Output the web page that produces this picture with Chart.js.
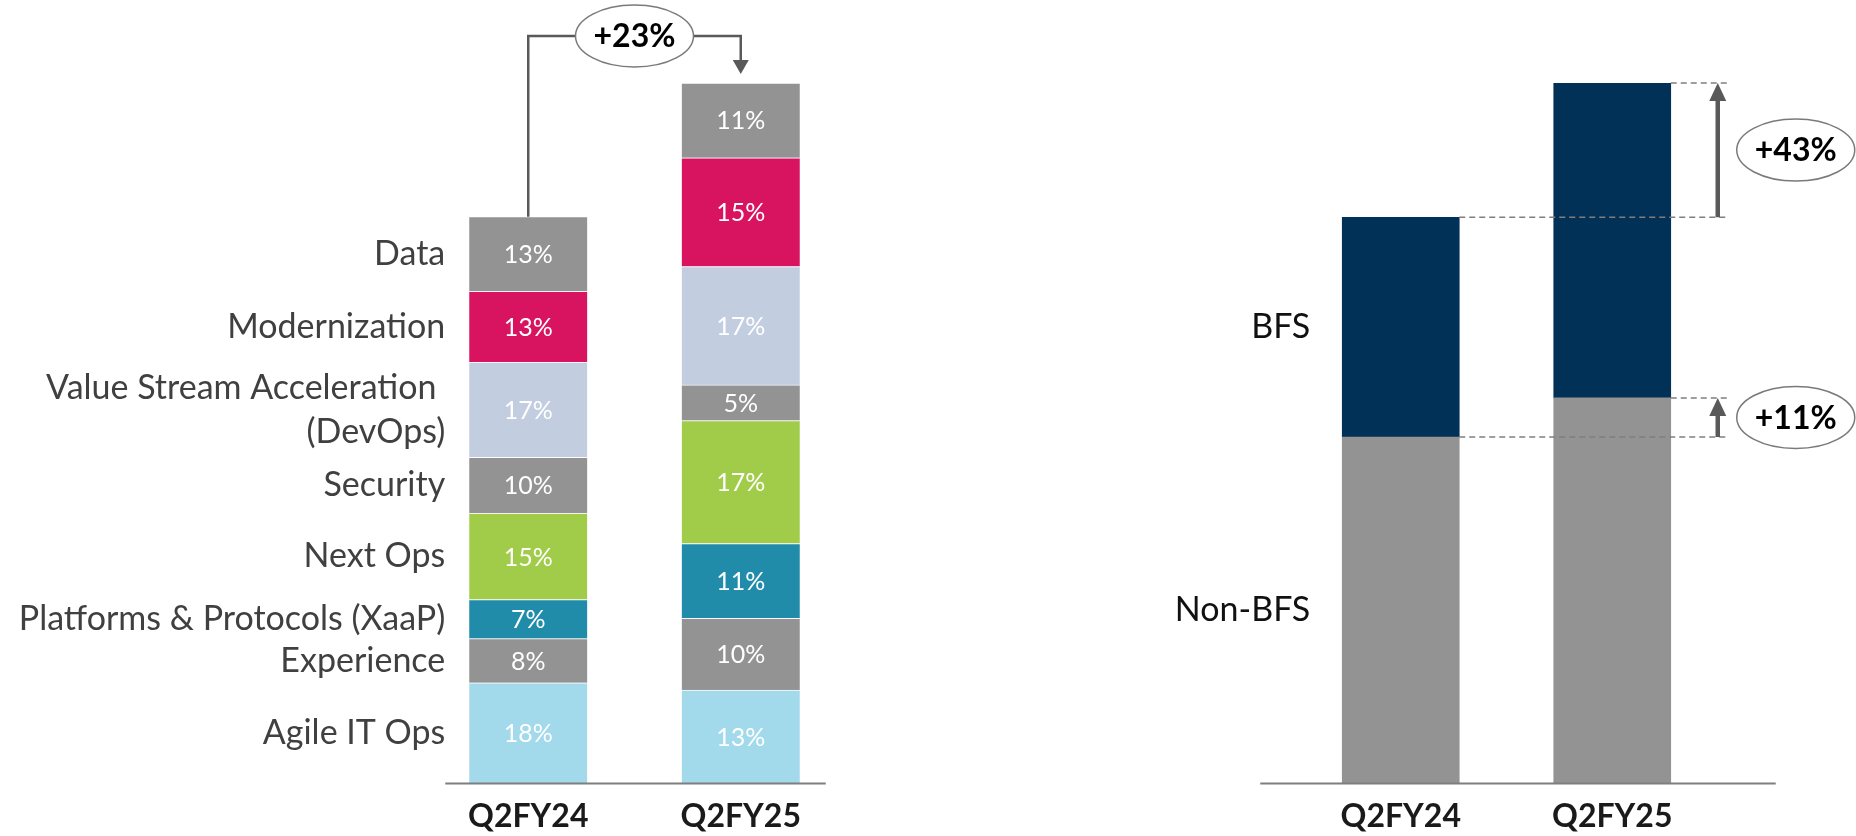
<!DOCTYPE html>
<html>
<head>
<meta charset="utf-8">
<script src="https://cdn.jsdelivr.net/npm/chart.js@4.4.1/dist/chart.umd.min.js"></script>
<style>
  html, body { margin: 0; padding: 0; background: #fff; overflow: hidden; }
  #wrap { position: relative; width: 1856px; height: 836px; overflow: hidden; }
  .box { position: absolute; top: 0; width: 928px; height: 850px; }
</style>
</head>
<body>
<div id="wrap">
  <div class="box" style="left:0"><canvas id="mix"></canvas></div>
  <div class="box" style="left:928px"><canvas id="bfs"></canvas></div>
</div>
<script>
const periods = ['Q2FY24', 'Q2FY25'];

// left chart: service lines, listed bottom to top
const services = ['Agile IT Ops', 'Experience', 'Platforms & Protocols (XaaP)', 'Next Ops', 'Security',
  ['Value Stream Acceleration ', '(DevOps)'], 'Modernization', 'Data'];
const mixQ2FY24 = [17.8, 7.8, 6.9, 15.2, 9.9, 16.8, 12.5, 13.2];
const mixQ2FY25 = [16.5, 12.7, 13.2, 21.7, 6.3, 20.9, 19.2, 13.2];
const shareQ2FY24 = [18, 8, 7, 15, 10, 17, 13, 13];
const shareQ2FY25 = [13, 10, 11, 17, 5, 17, 15, 11];
const mixColors = ['#a2daeb', '#939393', '#218caa', '#a0cc49', '#939393', '#c3cde0', '#d81460', '#939393'];
const totalGrowth = '+23%';

// right chart: BFS split
const bfsSegments = ['Non-BFS', 'BFS'];
const nonBfs = [61.2, 68.1];
const bfs = [38.8, 55.6];
const bfsGrowth = ['+11%', '+43%'];
const bfsColors = ['#939393', '#023157'];

const FONT = 'Lato, "Open Sans", sans-serif';
const sum = a => a.reduce((s, v) => s + v, 0);
const yMax = Math.max(sum(mixQ2FY24), sum(mixQ2FY25), nonBfs[0] + bfs[0], nonBfs[1] + bfs[1]);

function drawBadge(ctx, cx, cy, text) {
  ctx.save();
  ctx.beginPath();
  ctx.ellipse(cx, cy, 59, 31, 0, 0, Math.PI * 2);
  ctx.fillStyle = '#fff';
  ctx.fill();
  ctx.lineWidth = 1.5;
  ctx.strokeStyle = '#7a7a7a';
  ctx.stroke();
  ctx.fillStyle = '#000';
  ctx.font = 'bold 32px ' + FONT;
  ctx.textAlign = 'center';
  ctx.textBaseline = 'middle';
  ctx.fillText(text, cx, cy + 1);
  ctx.restore();
}

// % inside each segment
const insideLabels = {
  id: 'insideLabels',
  afterDatasetsDraw(chart) {
    const { ctx } = chart;
    ctx.save();
    ctx.font = '25px ' + FONT;
    ctx.fillStyle = '#fff';
    ctx.textAlign = 'center';
    ctx.textBaseline = 'middle';
    chart.data.datasets.forEach((ds, i) => {
      if (!ds.shares) return;
      chart.getDatasetMeta(i).data.forEach((bar, j) => {
        ctx.fillText(ds.shares[j] + '%', bar.x, (bar.y + bar.base) / 2 + 1);
      });
    });
    ctx.restore();
  }
};

// segment names left of the first bar
const rowLabels = {
  id: 'rowLabels',
  afterDatasetsDraw(chart, args, opts) {
    const { ctx } = chart;
    ctx.save();
    ctx.font = opts.size + 'px ' + FONT;
    ctx.fillStyle = opts.color;
    ctx.textAlign = 'right';
    ctx.textBaseline = 'middle';
    chart.data.datasets.forEach((ds, i) => {
      const bar = chart.getDatasetMeta(i).data[0];
      const x = bar.x - bar.width / 2 - opts.gap;
      const mid = (bar.y + bar.base) / 2;
      const lines = [].concat(ds.rowName);
      lines.forEach((t, k) => ctx.fillText(t, x, mid + (k - (lines.length - 1) / 2) * 44));
    });
    ctx.restore();
  }
};

const baseline = {
  id: 'baseline',
  afterDatasetsDraw(chart, args, opts) {
    const { ctx } = chart;
    const bars = chart.getDatasetMeta(0).data;
    const first = bars[0], last = bars[bars.length - 1];
    const y = chart.scales.y.getPixelForValue(0);
    ctx.save();
    ctx.strokeStyle = '#7f7f7f';
    ctx.lineWidth = 2;
    ctx.beginPath();
    ctx.moveTo(first.x - first.width / 2 - opts.left, y);
    ctx.lineTo(last.x + last.width / 2 + opts.right, y);
    ctx.stroke();
    ctx.restore();
  }
};

const growthBracket = {
  id: 'growthBracket',
  afterDraw(chart, args, opts) {
    const { ctx } = chart;
    const [a, b] = chart.getDatasetMeta(chart.data.datasets.length - 1).data;
    const yTop = opts.y;
    ctx.save();
    ctx.strokeStyle = '#595959';
    ctx.fillStyle = '#595959';
    ctx.lineWidth = 2.5;
    ctx.beginPath();
    ctx.moveTo(a.x, a.y);
    ctx.lineTo(a.x, yTop);
    ctx.lineTo(b.x, yTop);
    ctx.lineTo(b.x, b.y - 22);
    ctx.stroke();
    ctx.beginPath();
    ctx.moveTo(b.x - 8, b.y - 23);
    ctx.lineTo(b.x + 8, b.y - 23);
    ctx.lineTo(b.x, b.y - 9);
    ctx.closePath();
    ctx.fill();
    ctx.restore();
    drawBadge(ctx, (a.x + b.x) / 2, yTop, opts.text);
  }
};

const deltaArrows = {
  id: 'deltaArrows',
  afterDraw(chart, args, opts) {
    const { ctx } = chart;
    const low = chart.getDatasetMeta(0).data;
    const high = chart.getDatasetMeta(1).data;
    const x24 = low[0].x + low[0].width / 2;
    const x25 = low[1].x + low[1].width / 2;
    const ax = x25 + 47;
    const xEnd = ax + 9;
    [[low[0].y, low[1].y, opts.labels[0]], [high[0].y, high[1].y, opts.labels[1]]].forEach(([y0, y1, txt]) => {
      ctx.save();
      ctx.strokeStyle = '#7f7f7f';
      ctx.lineWidth = 1.5;
      ctx.setLineDash([6, 4]);
      ctx.beginPath();
      ctx.moveTo(x24, y0); ctx.lineTo(xEnd, y0);
      ctx.moveTo(x25, y1); ctx.lineTo(xEnd, y1);
      ctx.stroke();
      ctx.setLineDash([]);
      ctx.strokeStyle = '#595959';
      ctx.fillStyle = '#595959';
      ctx.lineWidth = 4.5;
      ctx.beginPath();
      ctx.moveTo(ax, y0);
      ctx.lineTo(ax, y1 + 16);
      ctx.stroke();
      ctx.beginPath();
      ctx.moveTo(ax - 8.5, y1 + 18);
      ctx.lineTo(ax + 8.5, y1 + 18);
      ctx.lineTo(ax, y1);
      ctx.closePath();
      ctx.fill();
      ctx.restore();
      drawBadge(ctx, ax + 78, (y0 + y1) / 2, txt);
    });
  }
};

function chartOptions(padLeft, padRight, plugins) {
  return {
    responsive: true,
    maintainAspectRatio: false,
    animation: false,
    layout: { padding: { left: padLeft, right: padRight, top: 83, bottom: 0 } },
    plugins: Object.assign({ legend: { display: false }, tooltip: { enabled: false } }, plugins),
    scales: {
      x: {
        stacked: true,
        grid: { display: false, drawTicks: false },
        border: { display: false },
        ticks: { color: '#1a1a1a', padding: 14, font: { family: FONT, size: 32, weight: 'bold' } }
      },
      y: { stacked: true, display: false, min: 0, max: yMax }
    }
  };
}

new Chart(document.getElementById('mix'), {
  type: 'bar',
  plugins: [baseline, insideLabels, rowLabels, growthBracket],
  data: {
    labels: periods,
    datasets: services.map((name, i) => ({
      label: [].concat(name).join(' ').trim(),
      rowName: name,
      data: [mixQ2FY24[i], mixQ2FY25[i]],
      shares: [shareQ2FY24[i], shareQ2FY25[i]],
      backgroundColor: mixColors[i],
      borderColor: 'rgba(255,255,255,0.7)',
      borderWidth: { top: 1 },
      barThickness: 118
    }))
  },
  options: chartOptions(422, 81, {
    baseline: { left: 24, right: 26 },
    rowLabels: { size: 34, color: '#404040', gap: 24 },
    growthBracket: { y: 36, text: totalGrowth }
  })
});

new Chart(document.getElementById('bfs'), {
  type: 'bar',
  plugins: [baseline, rowLabels, deltaArrows],
  data: {
    labels: periods,
    datasets: [nonBfs, bfs].map((vals, i) => ({
      label: bfsSegments[i],
      rowName: bfsSegments[i],
      data: vals,
      backgroundColor: bfsColors[i],
      barThickness: 117
    }))
  },
  options: chartOptions(367, 138, {
    baseline: { left: 82, right: 105 },
    rowLabels: { size: 34, color: '#111', gap: 32 },
    deltaArrows: { labels: bfsGrowth }
  })
});
</script>
</body>
</html>
